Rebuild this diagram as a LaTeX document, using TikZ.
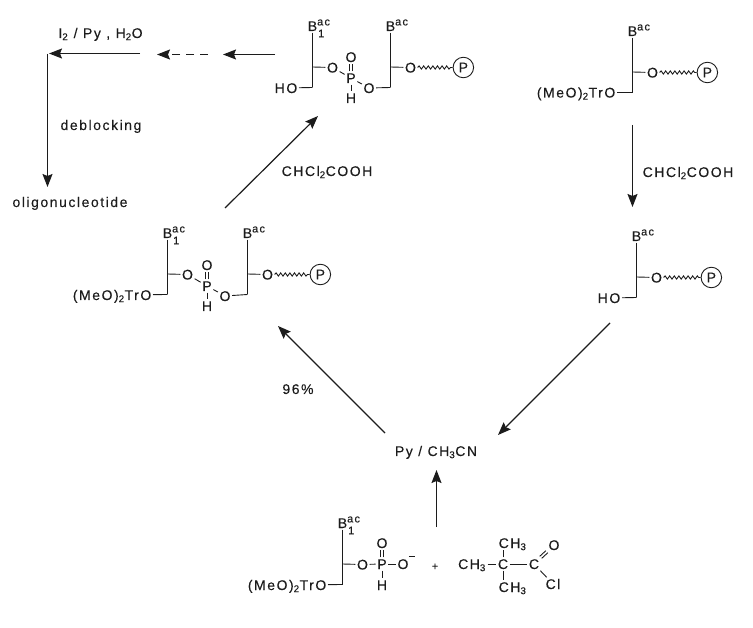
\documentclass[tikz,border=0pt]{standalone}
\usepackage{xcolor}
\usepackage{fontspec}
\usepackage{tikz}
\usetikzlibrary{arrows.meta,positioning,decorations.pathmorphing}
\setmainfont[LetterSpace=11,FakeBold=0.12]{Liberation Sans}
\definecolor{ScanInk}{RGB}{28, 28, 28}
\newcommand{\chemfont}{\fontsize{14}{16}\selectfont}
\newcommand{\indexfont}{\fontsize{11}{13}\selectfont}
\newcommand{\Bac}{B\rlap{\raisebox{.4em}{\indexfont ac}}}
\newcommand{\Bone}{B\rlap{\raisebox{.4em}{\indexfont ac}}\rlap{\raisebox{-.45em}{\kern1pt\indexfont 1}}}
\newcommand{\sugarunit}[4]{
    \node[atom] (#1Base) at (#2,#3) {#4};
    \coordinate (#1Corner) at (#2,#3+61.5);
    \coordinate (#1Branch) at (#2,#3+41);
    \node[atom] (#1Oxy) at (#2+20,#3+41.5) {O};
    \draw[bond] (#1Base) -- (#1Corner);
    \draw[bond] (#1Branch) -- (#1Oxy);
}
\newcommand{\supportunit}[2]{
    \node[support, right=#2 of #1Oxy] (#1Resin) {P};
    \draw[wave] (#1Oxy) -- (#1Resin);
}
\newcommand{\phosphoryl}[2]{
    \draw[bond] ([xshift=-1.4pt]#1.north) -- ([xshift=-1.4pt]#2.south);
    \draw[bond] ([xshift=1.4pt]#1.north) -- ([xshift=1.4pt]#2.south);
}
\tikzset{
    atom/.style={inner sep=1.5pt, font=\chemfont, text height=10pt, text depth=0pt, text=ScanInk},
    reagent/.style={atom, inner sep=0pt},
    support/.style={circle, draw=ScanInk, line width=0.9pt, minimum size=20.5pt, inner sep=0pt, font=\chemfont, text=ScanInk},
    bond/.style={draw=ScanInk, line width=0.9pt},
    wave/.style={draw=ScanInk, line width=0.9pt, decorate, decoration={snake, amplitude=1.6pt, segment length=4.6pt}},
    arrow/.style={draw=ScanInk, line width=1.2pt, -{Stealth[length=13pt, width=10pt, inset=2pt]}}
}

\begin{document}
\begin{tikzpicture}[x=1pt, y=-1pt]
    \useasboundingbox (0,0) rectangle (753,628);

    % top dimer
    \sugarunit{topA}{312.5}{26}{\Bone}
    \sugarunit{topB}{390.5}{26}{\Bac}
    \supportunit{topB}{35pt}
    \node[atom, anchor=east] (topHo) at (299,88) {HO};
    \node[atom] (topP) at (351,78) {P};
    \node[atom] (topPo) at (351,57) {O};
    \node[atom] (topH) at (351,98) {H};
    \node[atom] (topOb) at (369,88) {O};
    \draw[bond] (topHo) -- (topACorner);
    \draw[bond] (topOb) -- (topBCorner);
    \draw[bond] (topAOxy) -- (topP);
    \draw[bond] (topP) -- (topOb);
    \draw[bond] (topP) -- (topH);
    \phosphoryl{topP}{topPo}

    % protected monomer
    \sugarunit{mono}{632.5}{31}{\Bac}
    \supportunit{mono}{37pt}
    \node[atom, anchor=east] (monoTr) at (617,92.5) {(MeO)\textsubscript{2}TrO};
    \draw[bond] (monoTr) -- (monoCorner);

    % deprotected monomer
    \sugarunit{free}{636.5}{236}{\Bac}
    \supportunit{free}{37pt}
    \node[atom, anchor=east] (freeHo) at (622,298) {HO};
    \draw[bond] (freeHo) -- (freeCorner);

    % protected dimer
    \sugarunit{leftA}{167.5}{233}{\Bone}
    \sugarunit{leftB}{247.5}{233}{\Bac}
    \supportunit{leftB}{35pt}
    \node[atom, anchor=east] (leftTr) at (153,295) {(MeO)\textsubscript{2}TrO};
    \node[atom] (leftP) at (207,286) {P};
    \node[atom] (leftPo) at (207,265) {O};
    \node[atom] (leftH) at (207,306) {H};
    \node[atom] (leftOb) at (225,296) {O};
    \draw[bond] (leftTr) -- (leftACorner);
    \draw[bond] (leftOb) -- (leftBCorner);
    \draw[bond] (leftAOxy) -- (leftP);
    \draw[bond] (leftP) -- (leftOb);
    \draw[bond] (leftP) -- (leftH);
    \phosphoryl{leftP}{leftPo}

    % H-phosphonate and pivaloyl chloride
    \sugarunit{base}{342.5}{523}{\Bone}
    \node[atom, anchor=east] (baseTr) at (328,585) {(MeO)\textsubscript{2}TrO};
    \node[atom] (baseP) at (382,564) {P};
    \node[atom] (basePo) at (382,543) {O};
    \node[atom] (baseH) at (382,585) {H};
    \node[atom] (baseOm) at (403,564) {O};
    \node[atom, inner sep=0pt] (baseMinus) at (412,557) {\rule[5pt]{6.5pt}{.9pt}};
    \node[atom] (plusSign) at (435,565) {\indexfont +};
    \draw[bond] (baseTr) -- (baseCorner);
    \draw[bond] (baseOxy) -- (baseP);
    \draw[bond] (baseP) -- (baseOm);
    \draw[bond] (baseP) -- (baseH);
    \phosphoryl{baseP}{basePo}
    \node[atom] (pivLeft) at (472,564) {CH\textsubscript{3}};
    \node[atom] (pivC) at (503,564) {C};
    \node[atom, anchor=west] (pivUp) at (497,543) {CH\textsubscript{3}};
    \node[atom, anchor=west] (pivDown) at (497,587) {CH\textsubscript{3}};
    \node[atom] (pivCo) at (534,564) {C};
    \node[atom] (pivO) at (554,545) {O};
    \node[atom] (pivCl) at (553,584) {Cl};
    \draw[bond] (pivLeft) -- (pivC);
    \draw[bond] (pivC) -- (pivC |- pivUp.south);
    \draw[bond] (pivC) -- (pivC |- pivDown.north);
    \draw[bond] (pivC) -- (pivCo);
    \draw[bond] (pivCo) -- (pivCl);
    \draw[bond] ([shift={(-1,-1)}]pivCo.north east) -- ([shift={(-1,-1)}]pivO.south west);
    \draw[bond] ([shift={(1,1)}]pivCo.north east) -- ([shift={(1,1)}]pivO.south west);

    % reagents
    \node[reagent] (iodine) at (100.5,33) {I\textsubscript{2} / Py , H\textsubscript{2}O};
    \node[reagent] (deblock) at (101,125) {deblocking};
    \node[reagent] (oligo) at (70,202) {oligonucleotide};
    \node[reagent] (acidLeft) at (327,171) {CHCl\textsubscript{2}COOH};
    \node[reagent] (acidRight) at (688,172) {CHCl\textsubscript{2}COOH};
    \node[reagent] (yield) at (298,389) {96\%};
    \node[reagent] (solvent) at (436,451) {Py / CH\textsubscript{3}CN};

    % free arrow ends
    \coordinate (stepTail) at (275,54.5);
    \coordinate (stepTip) at (223,54.5);
    \coordinate (dashTail) at (208,54.5);
    \coordinate (dashTip) at (157,54.5);
    \coordinate (oxTail) at (140,53.5);
    \coordinate (oxTip) at (49,53.5);
    \coordinate (downTail) at (47.5,54);
    \coordinate (downTip) at (47.5,187);
    \coordinate (riseTail) at (225,208);
    \coordinate (riseTip) at (318,116);
    \coordinate (acidTail) at (632.5,125);
    \coordinate (acidTip) at (632.5,207);
    \coordinate (joinTail) at (610,323);
    \coordinate (joinTip) at (498,435);
    \coordinate (yieldTail) at (385,433);
    \coordinate (yieldTip) at (278,326);
    \coordinate (feedTail) at (436.5,527);
    \coordinate (feedTip) at (436.5,470);

    \draw[arrow] (stepTail) -- (stepTip);
    \draw[arrow, dash pattern=on 8pt off 6pt] (dashTail) -- (dashTip);
    \draw[arrow] (oxTail) -- (oxTip);
    \draw[arrow] (downTail) -- (downTip);
    \draw[arrow] (riseTail) -- (riseTip);
    \draw[arrow] (acidTail) -- (acidTip);
    \draw[arrow] (joinTail) -- (joinTip);
    \draw[arrow] (yieldTail) -- (yieldTip);
    \draw[arrow] (feedTail) -- (feedTip);
\end{tikzpicture}
\end{document}
